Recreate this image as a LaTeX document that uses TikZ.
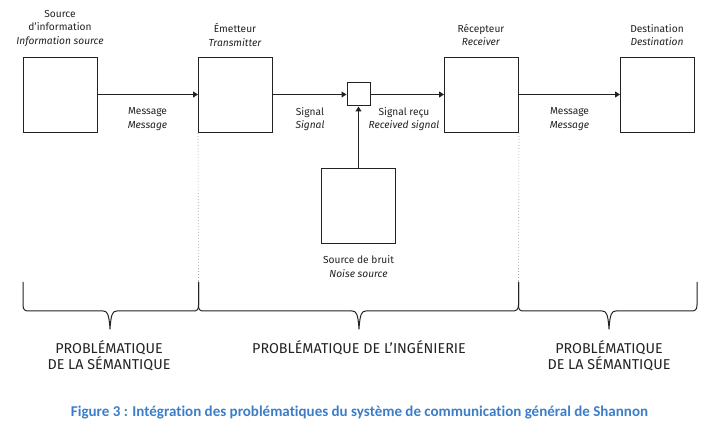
\documentclass[tikz,border=0pt]{standalone}
\usepackage{fontspec}
\setmainfont{Fira Sans}
\newfontfamily\capfont[Ligatures={NoCommon}]{Carlito}
\usetikzlibrary{arrows.meta}
\definecolor{ink}{HTML}{222222}
\definecolor{capblue}{HTML}{3B7DC8}
\begin{document}
\begin{tikzpicture}[x=1pt,y=-1pt,
  blk/.style={draw=ink,line width=1pt,minimum width=74pt,minimum height=75pt,inner sep=0pt,anchor=north west},
  smallblk/.style={draw=ink,line width=1pt,minimum width=23pt,minimum height=23pt,inner sep=0pt},
  lbl/.style={font=\fontsize{10.2}{13.3}\selectfont,text=ink,align=center,inner sep=0pt},
  big/.style={font=\fontsize{14.3}{16.5}\selectfont,text=ink,align=center,inner sep=0pt},
  conn/.style={draw=ink,line width=1pt,-{Triangle[length=5pt,width=6pt]}},
  sep/.style={draw=gray!70,line width=0.6pt,dash pattern=on 1pt off 2pt},
  brc/.style={draw=ink,line width=1pt,line join=round}]
\useasboundingbox (0,0) rectangle (716,435);

% boxes
\node[blk] (src) at (23,57) {};
\node[blk] (tx) at (198,57) {};
\node[blk] (rx) at (444,57) {};
\node[blk] (dst) at (620,57) {};
\node[blk] (noise) at (321,168) {};
\node[smallblk] (mix) at (358.5,94.5) {};

% top labels
\node[lbl] (srcl) at (60,28.5) {Source\\d’information\\\textit{Information source}};
\node[lbl] (txl) at (235,35) {Émetteur\\\textit{Transmitter}};
\node[lbl] (rxl) at (481,35) {Récepteur\\\textit{Receiver}};
\node[lbl] (dstl) at (657,35) {Destination\\\textit{Destination}};

% connectors
\draw[conn] (src.east |- mix) -- (tx.west |- mix);
\draw[conn] (tx.east |- mix) -- (mix.west);
\draw[conn] (mix.east) -- (rx.west |- mix);
\draw[conn] (rx.east |- mix) -- (dst.west |- mix);
\draw[conn] (noise.north -| mix) -- (mix.south);

% connector labels
\node[lbl] (m1) at (147.5,119) {Message\\\textit{Message}};
\node[lbl] (s1) at (310,119) {Signal\\\textit{Signal}};
\node[lbl] (s2) at (404,119) {Signal reçu\\\textit{Received signal}};
\node[lbl] (m2) at (569.5,119) {Message\\\textit{Message}};
\node[lbl] (nl) at (358.5,266.5) {Source de bruit\\\textit{Noise source}};

% separators
\coordinate (j1) at (198.5,282);
\coordinate (j2) at (518.5,282);
\draw[sep] (tx.south west) -- (j1);
\draw[sep] (rx.south east) -- (j2);

% braces
\draw[brc] (23,282) -- (23,305) .. controls (23,310) and (25,311) .. (29,311)
  -- (103,311) .. controls (107,311) and (109,313) .. (110,329)
  .. controls (111,313) and (113,311) .. (117,311)
  -- (193,311) .. controls (197,311) and (198.5,310) .. (198.5,305) -- (j1);
\draw[brc] (j1) -- (198.5,305) .. controls (198.5,310) and (200,311) .. (204,311)
  -- (352,311) .. controls (356,311) and (358,313) .. (359,329)
  .. controls (360,313) and (362,311) .. (366,311)
  -- (512,311) .. controls (516,311) and (518.5,310) .. (518.5,305) -- (j2);
\draw[brc] (j2) -- (518.5,305) .. controls (518.5,310) and (520,311) .. (524,311)
  -- (602,311) .. controls (606,311) and (608,313) .. (609,329)
  .. controls (610,313) and (612,311) .. (616,311)
  -- (691,311) .. controls (695,311) and (697,310) .. (697,305) -- (697,282);

% bottom labels
\node[big] (p1) at (109,355.5) {PROBLÉMATIQUE\\DE LA SÉMANTIQUE};
\node[big] (p2) at (359,347.5) {PROBLÉMATIQUE DE L’INGÉNIERIE};
\node[big] (p3) at (609,355.5) {PROBLÉMATIQUE\\DE LA SÉMANTIQUE};

% caption
\node[font=\capfont\bfseries\fontsize{15}{18}\selectfont,text=capblue,inner sep=0pt] (cap) at (359.5,413) {Figure 3 : Intégration des problématiques du système de communication général de Shannon};
\end{tikzpicture}
\end{document}
